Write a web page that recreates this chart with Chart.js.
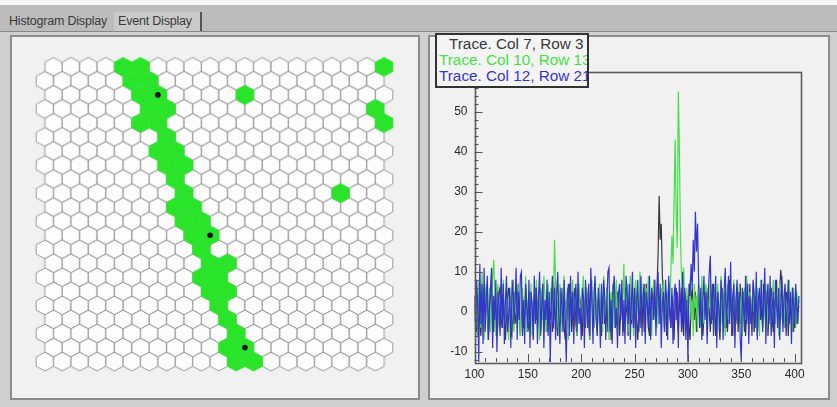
<!DOCTYPE html>
<html>
<head>
<meta charset="utf-8">
<script src="https://cdn.jsdelivr.net/npm/chart.js@4/dist/chart.umd.min.js"></script>
<style>
  html, body { margin: 0; padding: 0; }
  body { width: 837px; height: 407px; position: relative; overflow: hidden; background: #c8c8c8; font-family: "Liberation Sans", Arial, sans-serif; }
  #topstrip { position: absolute; left: 0; top: 0; width: 837px; height: 5px; background: #f4f4f4; }
  #tabbar { position: absolute; left: 0; top: 5px; width: 837px; height: 26px; background: #bcbcbc; }
  .tab { position: absolute; top: 7px; height: 19px; font-size: 12.5px; line-height: 19px; color: #3a3a3a; white-space: nowrap; }
  #tab1 { left: 9px; letter-spacing: -0.2px; }
  #tab2 { left: 114px; width: 82px; padding-left: 4px; background: #cacaca; border-right: 2px solid #555; letter-spacing: -0.2px; }
  #frame { position: absolute; left: 0; top: 31px; width: 837px; height: 376px; background: #cfcfcf; border-top: 1px solid #888; }
  .panel { position: absolute; background: #f1f1f1; border: 2px solid #8c8c8c; box-sizing: border-box; }
  #leftPanel { left: 10px; top: 35px; width: 410px; height: 365px; }
  #rightPanel { left: 428px; top: 35px; width: 402px; height: 365px; }
  #hexCanvas { position: absolute; left: 12px; top: 37px; }
  #traceCanvas { position: absolute; left: 430px; top: 37px; }
  #legend { position: absolute; left: 435px; top: 33px; width: 150px; height: 50px; border: 2px solid #333; background: #f4f4f4; overflow: hidden; font-size: 15.3px; line-height: 16px; padding-top: 1px; }
  #legend div { white-space: nowrap; padding-left: 2px; }
  #legend div:first-child { padding-left: 12px; }
</style>
</head>
<body>
<div id="topstrip"></div>
<div id="tabbar">
  <div class="tab" id="tab1">Histogram Display</div>
  <div class="tab" id="tab2">Event Display</div>
</div>
<div id="frame"></div>
<div class="panel" id="leftPanel"></div>
<div class="panel" id="rightPanel"></div>
<canvas id="hexCanvas" width="406" height="361"></canvas>
<canvas id="traceCanvas" width="398" height="361"></canvas>
<div id="legend"></div>
<script>
// ---- Detector map: 20 columns x 22 rows of hexagonal pixels ----
const gridCols = 20;
const gridRows = 22;
// [row, col] of pixels that fired (0-based)
const greenCells = [
  [0, 4], [0, 5], [0, 19],
  [1, 5], [1, 6],
  [2, 5], [2, 6], [2, 11],
  [3, 6], [3, 7], [3, 19],
  [4, 5], [4, 6], [4, 19],
  [5, 7],
  [6, 6], [6, 7],
  [7, 7], [7, 8],
  [8, 7],
  [9, 8], [9, 17],
  [10, 7], [10, 8],
  [11, 8], [11, 9],
  [12, 8], [12, 9],
  [13, 9],
  [14, 9], [14, 10],
  [15, 9], [15, 10],
  [16, 9], [16, 10],
  [17, 10],
  [18, 10],
  [19, 11],
  [20, 10], [20, 11],
  [21, 11], [21, 12]
];
// pixels whose traces are plotted (0-based row, col)
const tracedCells = [[2, 6], [12, 9], [20, 11]];

// ---- Traces: one sample per time bin, bins 100..404 ----
const seriesNames = ['Trace. Col 7, Row 3', 'Trace. Col 10, Row 13', 'Trace. Col 12, Row 21'];
const seriesColors = ['#383838', '#44e044', '#3434d0'];
const sampleStart = 100;
const sampleStep = 1;
const traceCol7Row3 = [
  2, -1, -5, 3, 4, -3, -6, 1, 6, 0,
  -4, 5, 2, -7, -2, 4, 7, -1, -5, 3,
  1, -6, -3, 5, 6, -2, -4, 3, 0, -7,
  -1, 4, 6, 2, -5, -6, 1, 5, -3, -1,
  3, 7, -2, -6, 0, 4, -4, -1, 6, 2,
  -5, -3, 5, 3, -1, -7, 2, 6, -2, 1,
  4, -4, -6, 3, 7, 0, -3, 2, -5, 5,
  1, -2, 6, -5, -3, 4, 8, -1, -6, 2,
  5, -3, 0, 6, -4, -7, 3, 1, -2, 7,
  2, -5, -1, 4, 6, -3, -6, 0, 5, 3,
  -2, -6, 4, 1, -4, 6, 2, -3, -7, 3,
  5, 0, -4, 7, -1, -5, 3, 6, -2, -6,
  2, 4, -3, 0, 6, -5, -1, 3, -7, 4,
  7, 1, -4, -2, 5, 3, -6, 0, 4, -3,
  -5, 6, 2, -1, -6, 4, 7, -3, 1, -4,
  3, 5, -2, -7, 0, 6, -4, 2, 4, -5,
  -1, 7, 3, -4, -6, 2, 5, -2, 8, 1,
  -3, 6, 14, 29, 18, 22, 9, 3, -4, 5,
  -6, 2, 7, -1, -4, 4, 1, -7, 3, 6,
  -2, -5, 4, 0, 6, -3, -6, 5, 2, -1,
  4, -4, -7, 3, 6, 1, -2, 5, -5, 0,
  7, -3, 2, 4, -6, -1, 5, 3, -4, 6,
  0, -5, 4, -2, 7, 2, -6, 1, 5, -3,
  -7, 3, 6, -1, -4, 5, 2, -5, 0, 8,
  3, -2, -6, 4, 1, -3, 6, -5, 2, 7,
  -1, -4, 5, 3, -6, 0, 4, -2, 7, -3,
  2, 6, -5, -1, 4, -6, 3, 5, -2, 1,
  -4, 7, 2, -3, 5, -6, 0, 4, 6, -2,
  -5, 3, 1, 8, -1, 4, 6, 10.5, 7, -3,
  2, -4, 5, 3, -6, 1, 4, -2, 6, -5,
  0, 3, -3, 2, 1
];
const traceCol10Row13 = [
  -2, 5, 1, -6, 8, 3, -4, 10, 2, -7,
  4, 7, -3, 0, 6, -5, 2, 9, 13, 4,
  -6, 3, 7, -2, -5, 5, 1, 8, -4, 2,
  6, -3, -7, 4, 2, 8, -1, -5, 5, 3,
  -4, 7, 0, -6, 4, 6, -2, 3, 9, -5,
  1, 5, -3, 7, -6, 2, 4, -1, 8, -4,
  3, -7, 6, 1, -2, 9, 4, -5, 2, 7,
  -3, 5, 0, 8, 4, 18, 6, -4, 3, -6,
  7, 2, -5, 4, 9, -2, 1, 6, -7, 3,
  5, -1, 8, -4, 2, 6, -6, 3, 7, 0,
  -3, 4, 9, -5, 1, 6, -2, 5, -7, 3,
  8, 0, -4, 6, 3, -6, 2, 7, -1, 4,
  -5, 9, 1, -3, 6, 4, -7, 2, 5, -2,
  7, -4, 3, 8, -6, 1, 5, -1, 6, 3,
  12, -3, 4, 7, -5, 2, 9, -2, 6, -6,
  3, 8, -1, 5, -4, 10, 2, -3, 7, 4,
  -5, 6, 1, 9, -2, 3, -6, 5, 8, -1,
  4, -4, 7, 2, -3, 6, 0, 8, -5, 3,
  5, -2, 7, 1, 10, 19, 12, 28, 43, 24,
  16, 55, 40, 18, 9, 4, 11, 2, -4, 6,
  -3, 5, 8, -2, 3, -6, 7, 1, 4, -5,
  6, 2, -4, 9, 0, -3, 5, 7, -6, 3,
  1, 8, -2, 4, -5, 6, 3, -1, 7, -4,
  2, 9, -3, 5, 0, -6, 4, 7, -2, 3,
  6, -4, 1, 8, -5, 3, 5, -1, 7, -3,
  4, -6, 2, 6, -2, 9, 1, -4, 5, 3,
  -5, 7, 0, 4, -3, 6, 2, -6, 8, 1,
  3, -2, 5, 7, -4, 2, -1, 6, -5, 4,
  8, 0, -3, 5, 2, -6, 7, 3, -2, 4,
  -4, 6, 1, -3, 5, 8, -1, 3, -5, 6,
  2, -4, 5, 1, 3
];
const traceCol12Row21 = [
  4, -6, 8, 2, -12.5, 12, -3, 7, -8, 11,
  -5, 3, 9, -7, 1, 6, 11, -9, 4, -2,
  8, -10, 5, 2, -6, 11, -4, 7, -8, 3,
  9, -5, -1, 6, -9, 4, 8, -3, 2, 11,
  -7, 5, -2, 9, 10, -6, 3, -8, 7, 1,
  -4, 8, -9, 5, 2, -6, 9, -3, 6, -8,
  4, 10, -5, 1, 7, -9, 3, -2, 8, -6,
  5, -12.5, 2, 9, -4, 6, -7, 3, 10, -1,
  -8, 6, 2, -5, 8, -3, -12.5, 4, 7, -6,
  9, -2, 5, -8, 3, 7, -5, 10, -3, 1,
  -7, 6, 4, -9, 8, 2, -4, 7, -6, 11,
  3, -8, 5, 9, -2, -6, 6, 1, -9, 7,
  -3, 8, 4, -7, 2, 10, 11, -5, 3, -8,
  6, 9, -4, 1, -9, 5, 7, -2, 8, -6,
  3, -8, 9, 5, -3, 7, -7, 2, 10, -4,
  6, -9, 3, 8, -5, 1, 9, -6, 4, 7,
  -8, 5, 2, -4, 9, -7, 6, 3, -2, 8,
  -6, 4, 10, -3, 7, -9, 2, 5, -5, 8,
  3, -7, 9, 1, -4, 6, -8, 4, 7, -2,
  5, -9, 8, 2, -5, 10, -3, 6, -7, 3,
  -12.5, 7, 4, 12, 6, 18, 10, 25, 15, 22,
  8, -4, 6, -7, 3, 9, -2, 5, -8, 4,
  10, 14, -3, 7, -6, 2, 9, -9, 5, 1,
  -5, 8, 3, -7, 6, 11, -4, 2, 9, -3,
  12.5, -6, 4, 7, -9, 3, 8, -2, 5, -7,
  -12.5, 6, 2, -5, 9, -3, 7, -8, 4, 1,
  -6, 8, 5, -4, 10, -7, 3, 6, -2, 8,
  -5, 2, 11, -8, 4, 7, -3, 9, -6, 1,
  5, -9, 8, 3, -4, 6, -7, 2, 9, -5,
  4, 7, -6, 1, 8, -3, 5, -8, 6, 2,
  -4, 7, 1, -3, 4
];
const xTickLabels = [100, 150, 200, 250, 300, 350, 400];
const yTickLabels = [-10, 0, 10, 20, 30, 40, 50];

// ---------------------------------------------------------------
// Hexagon sprites sized from the scale spacing
const hexCache = new Map();
function hexSprite(chart, fill, stroke) {
  const xs = chart.scales.x, ys = chart.scales.y;
  let w = Math.abs(xs.getPixelForValue(1) - xs.getPixelForValue(0));
  let h = Math.abs(ys.getPixelForValue(1) - ys.getPixelForValue(0)) / 0.75;
  if (!isFinite(w) || !isFinite(h) || w === 0) { w = 18.3; h = 19.8; }
  const key = [fill, stroke, w.toFixed(2), h.toFixed(2)].join('|');
  if (!hexCache.has(key)) {
    const c = document.createElement('canvas');
    c.width = Math.ceil(w) + 4;
    c.height = Math.ceil(h) + 4;
    const g = c.getContext('2d');
    const cx = c.width / 2, cy = c.height / 2;
    g.beginPath();
    g.moveTo(cx, cy - h / 2);
    g.lineTo(cx + w / 2, cy - h / 4);
    g.lineTo(cx + w / 2, cy + h / 4);
    g.lineTo(cx, cy + h / 2);
    g.lineTo(cx - w / 2, cy + h / 4);
    g.lineTo(cx - w / 2, cy - h / 4);
    g.closePath();
    g.fillStyle = fill;
    g.fill();
    g.strokeStyle = stroke;
    g.lineWidth = 1;
    g.stroke();
    hexCache.set(key, c);
  }
  return hexCache.get(key);
}

// even rows sit half a cell to the right
const cellPoint = ([row, col]) => ({ x: col + (row % 2 === 0 ? 0.5 : 0), y: row });
const isGreen = new Set(greenCells.map(([r, c]) => r + ':' + c));
const offCells = [];
for (let r = 0; r < gridRows; r++) {
  for (let c = 0; c < gridCols; c++) {
    if (!isGreen.has(r + ':' + c)) offCells.push([r, c]);
  }
}

new Chart(document.getElementById('hexCanvas'), {
  type: 'scatter',
  data: {
    datasets: [
      {
        label: 'marked',
        data: tracedCells.map(cellPoint),
        pointStyle: 'circle',
        pointRadius: 2.8,
        pointBackgroundColor: '#111',
        pointBorderWidth: 0,
        order: 0
      },
      {
        label: 'hit',
        data: greenCells.map(cellPoint),
        pointStyle: ctx => hexSprite(ctx.chart, '#2ae42a', '#2ae42a'),
        pointRadius: 9,
        order: 1
      },
      {
        label: 'idle',
        data: offCells.map(cellPoint),
        pointStyle: ctx => hexSprite(ctx.chart, '#fdfdfd', '#999999'),
        pointRadius: 9,
        order: 2
      }
    ]
  },
  options: {
    responsive: false,
    animation: false,
    events: [],
    layout: { padding: 0 },
    plugins: { legend: { display: false }, tooltip: { enabled: false } },
    scales: {
      x: { type: 'linear', display: false, min: -1.3115, max: 20.874 },
      y: { type: 'linear', display: false, reverse: true, min: -1.413, max: 22.88 }
    }
  }
});

// ---------------------------------------------------------------
// Frame plus inward tick marks in the style of the trace viewer
const yMinorStep = 2, yMajorStep = 10;
const xMinorStep = 10, xMajorStep = 50;
const frameTicks = {
  id: 'frameTicks',
  afterDatasetsDraw(chart) {
    const { ctx, chartArea: a, scales: { x, y } } = chart;
    ctx.save();
    ctx.strokeStyle = '#555';
    ctx.lineWidth = 1;
    ctx.beginPath();
    for (let v = Math.ceil(y.min / yMinorStep) * yMinorStep; v <= y.max; v += yMinorStep) {
      const py = Math.round(y.getPixelForValue(v)) + 0.5;
      const len = v % yMajorStep === 0 ? 8 : 4;
      ctx.moveTo(a.left, py);
      ctx.lineTo(a.left + len, py);
    }
    for (let v = Math.ceil(x.min / xMinorStep) * xMinorStep; v <= x.max; v += xMinorStep) {
      const px = Math.round(x.getPixelForValue(v)) + 0.5;
      const len = v % xMajorStep === 0 ? 8 : 4;
      ctx.moveTo(px, a.bottom);
      ctx.lineTo(px, a.bottom - len);
    }
    ctx.stroke();
    ctx.lineWidth = 1.6;
    ctx.strokeStyle = '#5a5a5a';
    ctx.strokeRect(Math.round(a.left) + 0.5, Math.round(a.top) + 0.5,
      Math.round(a.right - a.left), Math.round(a.bottom - a.top));
    ctx.restore();
  }
};

const traces = [traceCol7Row3, traceCol10Row13, traceCol12Row21];
new Chart(document.getElementById('traceCanvas'), {
  type: 'line',
  data: {
    datasets: traces.map((vals, i) => ({
      label: seriesNames[i],
      data: vals.map((v, k) => ({ x: sampleStart + k * sampleStep, y: v })),
      borderColor: seriesColors[i],
      borderWidth: 1.2,
      pointRadius: 0,
      tension: 0,
      fill: false,
      order: 3 - i
    }))
  },
  options: {
    responsive: false,
    animation: false,
    events: [],
    layout: { padding: { left: 0, right: 28, top: 34.5, bottom: 0 } },
    plugins: { legend: { display: false }, tooltip: { enabled: false } },
    scales: {
      x: {
        type: 'linear', min: 100, max: 405,
        afterFit(s) { s.height = 36; },
        afterBuildTicks(s) { s.ticks = xTickLabels.map(v => ({ value: v })); },
        grid: { display: false, drawTicks: false },
        border: { display: false },
        ticks: { padding: 5, color: '#2a2a2a', font: { family: 'Liberation Sans', size: 12 }, maxRotation: 0, autoSkip: false }
      },
      y: {
        type: 'linear', min: -12.5, max: 60,
        afterFit(s) { s.width = 44.5; },
        afterBuildTicks(s) { s.ticks = yTickLabels.map(v => ({ value: v })); },
        grid: { display: false, drawTicks: false },
        border: { display: false },
        ticks: { padding: 7, color: '#2a2a2a', font: { family: 'Liberation Sans', size: 12 }, autoSkip: false }
      }
    }
  },
  plugins: [frameTicks]
});

// legend box
const legend = document.getElementById('legend');
seriesNames.forEach((name, i) => {
  const d = document.createElement('div');
  d.textContent = name;
  d.style.color = seriesColors[i];
  legend.appendChild(d);
});
</script>
</body>
</html>
